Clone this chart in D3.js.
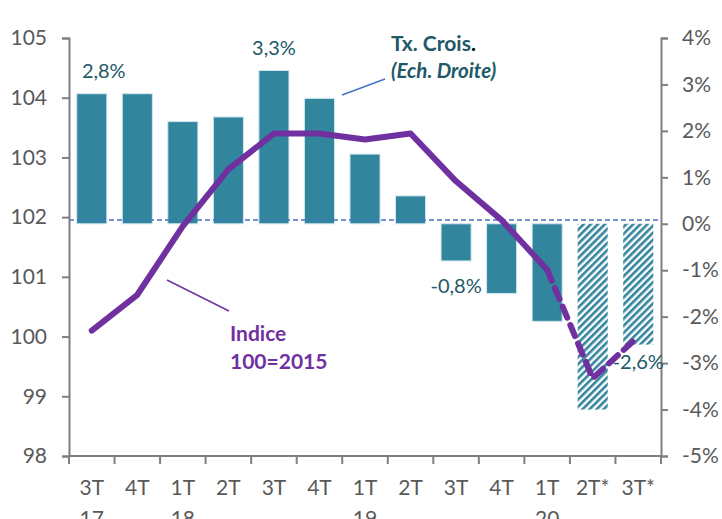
<!DOCTYPE html>
<html>
<head>
<meta charset="utf-8">
<script src="https://cdn.jsdelivr.net/npm/d3@7"></script>
<style>
  body { margin: 0; background: #fff; }
  svg { display: block; font-family: Lato, "Open Sans", sans-serif; }
</style>
</head>
<body>
<div class="chart"></div>
<script>
// data
const quarters = ["3T", "4T", "1T", "2T", "3T", "4T", "1T", "2T", "3T", "4T", "1T", "2T*", "3T*"];
const years = ["17", "", "18", "", "", "", "19", "", "", "", "20", "", ""];
const growth = [2.8, 2.8, 2.2, 2.3, 3.3, 2.7, 1.5, 0.6, -0.8, -1.5, -2.1, -4.0, -2.6];
const forecast = [false, false, false, false, false, false, false, false, false, false, false, true, true];
const indice = [100.1, 100.7, 101.85, 102.8, 103.4, 103.4, 103.3, 103.4, 102.6, 101.95, 101.12, 99.3, 100.0];
const barLabels = [
  {i: 0, text: "2,8%"},
  {i: 4, text: "3,3%"},
  {i: 8, text: "-0,8%"},
  {i: 12, text: "-2,6%"}
];
const leftTicks = [98, 99, 100, 101, 102, 103, 104, 105];
const rightTicks = [-5, -4, -3, -2, -1, 0, 1, 2, 3, 4];

const W = 722, H = 519;
const margin = {top: 38, right: 61, bottom: 63, left: 69};

const keys = quarters.map((q, i) => i);

const x = d3.scaleBand()
    .domain(keys)
    .range([margin.left, W - margin.right])
    .paddingInner(0.34)
    .paddingOuter(0.17);

const yL = d3.scaleLinear().domain([98, 105]).range([H - margin.bottom, margin.top]);
const yR = d3.scaleLinear().domain([-5, 4]).range([H - margin.bottom, margin.top]);

const teal = "#31859c";
const purple = "#7030a0";
const grey = "#7f7f7f";
const textGrey = "#595959";

const svg = d3.select(".chart").append("svg")
    .attr("width", W)
    .attr("height", H);

// hatch pattern for forecast bars
const pat = svg.append("defs").append("pattern")
    .attr("id", "hatch")
    .attr("patternUnits", "userSpaceOnUse")
    .attr("width", 5)
    .attr("height", 5)
    .attr("patternTransform", "rotate(45)");
pat.append("rect").attr("width", 5).attr("height", 5).attr("fill", "#fff");
pat.append("rect").attr("width", 2.6).attr("height", 5).attr("fill", teal);

// bars
svg.append("g").selectAll("rect")
    .data(growth)
    .join("rect")
    .attr("x", (d, i) => x(i))
    .attr("width", x.bandwidth())
    .attr("y", d => Math.min(yR(d), yR(0)))
    .attr("height", d => Math.abs(yR(d) - yR(0)))
    .attr("fill", (d, i) => forecast[i] ? "url(#hatch)" : teal)
    .attr("stroke", (d, i) => forecast[i] ? "none" : "#cfe6ee")
    .attr("stroke-width", 1);

// 0% dashed line
svg.append("line")
    .attr("x1", margin.left)
    .attr("x2", W - margin.right)
    .attr("y1", yR(0.08))
    .attr("y2", yR(0.08))
    .attr("stroke", "#4472c4")
    .attr("stroke-width", 1.5)
    .attr("stroke-dasharray", "5,3");

// index line: solid up to 1T20, dashed after
const line = d3.line()
    .x((d, i) => x(d.i) + x.bandwidth() / 2)
    .y(d => yL(d.v));
const pts = indice.map((v, i) => ({i: i, v: v}));
const splitAt = forecast.indexOf(true) - 1;

svg.append("path")
    .datum(pts.slice(0, splitAt + 1))
    .attr("d", line)
    .attr("fill", "none")
    .attr("stroke", purple)
    .attr("stroke-width", 6)
    .attr("stroke-linejoin", "round")
    .attr("stroke-linecap", "round");

svg.append("path")
    .datum(pts.slice(splitAt))
    .attr("d", line)
    .attr("fill", "none")
    .attr("stroke", purple)
    .attr("stroke-width", 6)
    .attr("stroke-dasharray", "12,8")
    .attr("stroke-linecap", "round");

// axes
const axL = svg.append("g")
    .attr("transform", `translate(${margin.left},0)`)
    .call(d3.axisLeft(yL).tickValues(leftTicks).tickSize(7).tickPadding(15)
        .tickFormat(d3.format("d")));

const axR = svg.append("g")
    .attr("transform", `translate(${W - margin.right},0)`)
    .call(d3.axisRight(yR).tickValues(rightTicks).tickSize(7).tickPadding(14)
        .tickFormat(d => d + "%"));

const axB = svg.append("g")
    .attr("transform", `translate(0,${H - margin.bottom})`);
axB.append("line")
    .attr("x1", margin.left).attr("x2", W - margin.right)
    .attr("stroke", grey).attr("stroke-width", 2);
axB.selectAll("line.tk")
    .data(d3.range(quarters.length + 1))
    .join("line")
    .attr("class", "tk")
    .attr("x1", i => margin.left + i * x.step())
    .attr("x2", i => margin.left + i * x.step())
    .attr("y1", 0).attr("y2", 8)
    .attr("stroke", grey).attr("stroke-width", 2);

axB.selectAll("text.q")
    .data(quarters)
    .join("text")
    .attr("class", "q")
    .attr("x", (d, i) => x(i) + x.bandwidth() / 2)
    .attr("y", 39)
    .attr("text-anchor", "middle")
    .attr("fill", textGrey)
    .attr("font-size", 21)
    .text(d => d);

axB.selectAll("text.yr")
    .data(years)
    .join("text")
    .attr("class", "yr")
    .attr("x", (d, i) => x(i) + x.bandwidth() / 2)
    .attr("y", 70)
    .attr("text-anchor", "middle")
    .attr("fill", textGrey)
    .attr("font-size", 21)
    .text(d => d);

[axL, axR].forEach(g => {
  g.select(".domain").attr("stroke", grey).attr("stroke-width", 2);
  g.selectAll(".tick line").attr("stroke", grey).attr("stroke-width", 2);
  g.selectAll(".tick text").attr("fill", textGrey).attr("font-size", 21)
      .attr("font-family", "Lato, sans-serif");
});

// bar value labels
svg.append("g").selectAll("text")
    .data(barLabels)
    .join("text")
    .attr("x", d => x(d.i) + x.bandwidth() / 2 + (d.i === 0 ? 12 : 0))
    .attr("y", d => growth[d.i] > 0 ? yR(growth[d.i]) - 16 : yR(growth[d.i]) + (d.i === 8 ? 32 : 24))
    .attr("text-anchor", "middle")
    .attr("fill", "#215968")
    .attr("font-size", 20)
    .text(d => d.text);

// annotations
const ann = svg.append("g").attr("font-weight", "bold").attr("font-size", 21);
const t1 = ann.append("text").attr("x", 391).attr("y", 51).attr("fill", "#215968");
t1.append("tspan").text("Tx. Crois");
t1.append("tspan").attr("fill", "#000").text(".");
ann.append("text").attr("x", 391).attr("y", 78).attr("fill", "#215968")
    .attr("font-style", "italic").attr("font-size", 20.5).text("(Ech. Droite)");
svg.append("line")
    .attr("x1", 385).attr("y1", 79).attr("x2", 342).attr("y2", 95)
    .attr("stroke", "#4472c4").attr("stroke-width", 1.5);

ann.append("text").attr("x", 230).attr("y", 341).attr("fill", purple).text("Indice");
ann.append("text").attr("x", 230).attr("y", 369).attr("fill", purple).text("100=2015");
svg.append("line")
    .attr("x1", 167).attr("y1", 280).attr("x2", 229).attr("y2", 311)
    .attr("stroke", purple).attr("stroke-width", 1.5);
</script>
</body>
</html>
